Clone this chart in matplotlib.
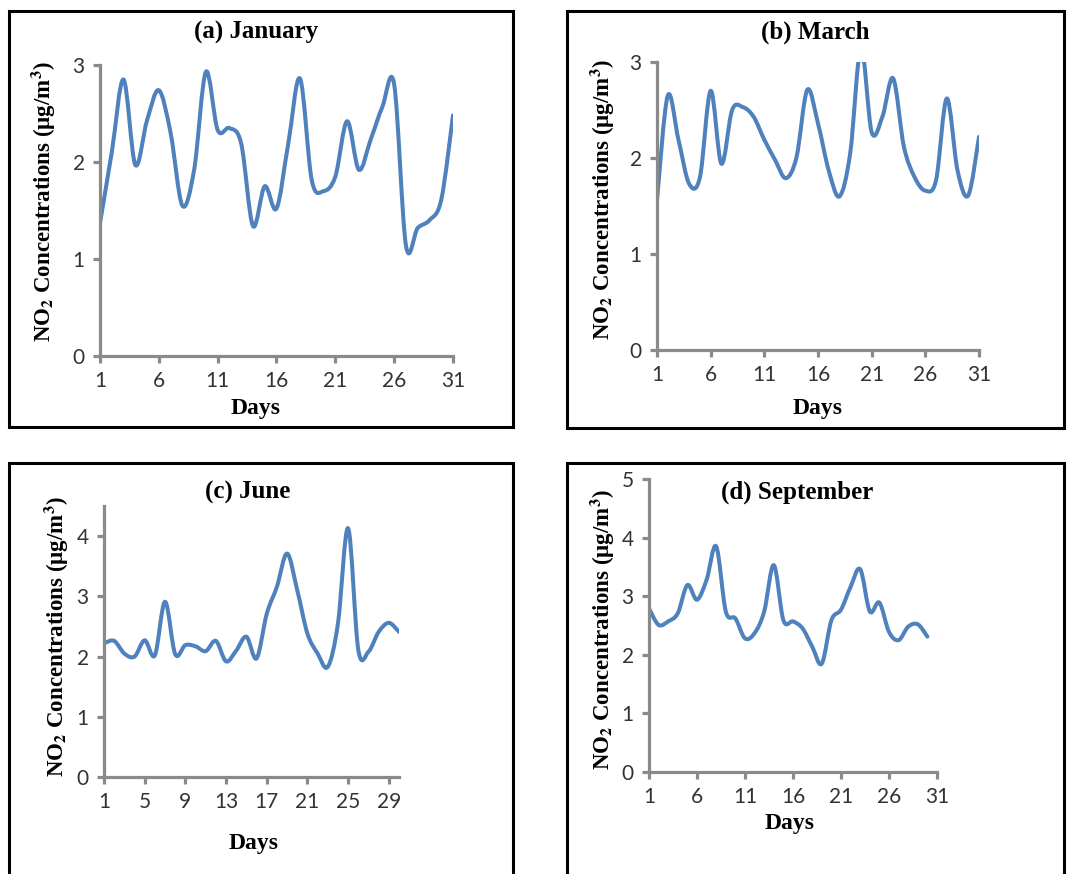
# NO2 daily concentrations - four month panels
import numpy as np
import matplotlib.pyplot as plt
from matplotlib.path import Path
from matplotlib.patches import PathPatch, Rectangle

# ---------------- data ----------------
jan_days = list(range(1, 32))
jan_no2 = [1.37, 2.10, 2.85, 1.97, 2.43, 2.74, 2.30, 1.55, 1.92, 2.93,
           2.33, 2.35, 2.19, 1.34, 1.75, 1.52, 2.19, 2.86, 1.81, 1.70,
           1.85, 2.42, 1.92, 2.23, 2.57, 2.80, 1.14, 1.32, 1.40, 1.61, 2.48]

mar_days = list(range(1, 32))
mar_no2 = [1.56, 2.65, 2.19, 1.73, 1.80, 2.70, 1.94, 2.50, 2.53, 2.43,
           2.19, 1.98, 1.79, 2.01, 2.71, 2.36, 1.87, 1.60, 2.05, 3.15,
           2.27, 2.43, 2.83, 2.12, 1.80, 1.66, 1.77, 2.62, 1.87, 1.61, 2.22]

jun_days = list(range(1, 31))
jun_no2 = [2.22, 2.26, 2.05, 2.00, 2.27, 2.02, 2.91, 2.04, 2.19, 2.17,
           2.09, 2.26, 1.92, 2.10, 2.33, 1.97, 2.71, 3.16, 3.71, 3.10,
           2.38, 2.05, 1.83, 2.55, 4.13, 2.11, 2.08, 2.41, 2.56, 2.41]

sep_days = list(range(1, 31))
sep_no2 = [2.79, 2.51, 2.57, 2.71, 3.19, 2.94, 3.28, 3.85, 2.74, 2.62,
           2.28, 2.37, 2.74, 3.53, 2.59, 2.57, 2.45, 2.14, 1.85, 2.59,
           2.77, 3.16, 3.46, 2.74, 2.89, 2.39, 2.25, 2.48, 2.52, 2.31]

titles = ["(a) January", "(b) March", "(c) June", "(d) September"]

# ---------------- layout helpers ----------------
W, H = 1067, 874
BLUE = "#4F81BD"
GREY = "#8a8a8a"

plt.rcParams["mathtext.fontset"] = "stix"


def rect(l, t, r, b):
    return [l / W, 1 - b / H, (r - l) / W, (b - t) / H]


def smooth_patch(x, y):
    # Excel-style smoothed line: cubic bezier through every point
    pts = np.column_stack([x, y]).astype(float)
    n = len(pts)
    verts = [pts[0]]
    codes = [Path.MOVETO]
    for i in range(n - 1):
        p0 = pts[i - 1] if i > 0 else pts[i]
        p1, p2 = pts[i], pts[i + 1]
        p3 = pts[i + 2] if i + 2 < n else pts[i + 1]
        c1 = p1 + (p2 - p0) / 6.0
        c2 = p2 - (p3 - p1) / 6.0
        verts += [c1, c2, p2]
        codes += [Path.CURVE4] * 3
    return PathPatch(Path(verts, codes), facecolor="none", edgecolor=BLUE,
                     lw=2.9, capstyle="round", joinstyle="round")


panels = [
    # days, values, axes box (l,t,r,b px), xlim, xticks, ylim, yticks, frame, title xy, ylabel xy, days xy
    (jan_days, jan_no2, (100, 65, 453, 356), (1, 31), range(1, 32, 5), 3, range(0, 4),
     (9, 11, 513, 427), (256, 32), (44, 202), (256, 408)),
    (mar_days, mar_no2, (657, 62, 979, 350), (1, 31), range(1, 32, 5), 3, range(0, 4),
     (567, 11, 1064, 428), (815, 32), (603, 200), (818, 408)),
    (jun_days, jun_no2, (104, 506, 399, 777), (1, 30), range(1, 30, 4), 4.5, range(0, 5),
     (9, 463, 513, 880), (248, 492), (57, 637), (254, 843)),
    (sep_days, sep_no2, (649, 479, 937, 772), (1, 31), range(1, 32, 5), 5, range(0, 6),
     (567, 463, 1064, 880), (797, 492), (603, 630), (790, 823)),
]

fig = plt.figure(figsize=(W / 100, H / 100), dpi=100)

for k, (days, vals, box, xl, xt, ymax, yt, frame, tpos, ypos, dpos) in enumerate(panels):
    ax = fig.add_axes(rect(*box))
    ax.add_patch(smooth_patch(days, vals))
    ax.set_xlim(*xl)
    ax.set_ylim(0, ymax)
    ax.set_xticks(list(xt))
    ax.set_yticks(list(yt))
    for s in ["top", "right"]:
        ax.spines[s].set_visible(False)
    for s in ["left", "bottom"]:
        ax.spines[s].set_color(GREY)
        ax.spines[s].set_linewidth(2.3)
    ax.tick_params(axis="both", color=GREY, width=2.3, length=5, direction="out",
                   labelsize=15, labelcolor="#333333", pad=6)
    for lab in ax.get_xticklabels() + ax.get_yticklabels():
        lab.set_fontfamily("Lato")
    ax.set_facecolor("none")

    fig.text(tpos[0] / W, 1 - tpos[1] / H, titles[k], ha="center", va="center",
             fontsize=18, fontweight="bold", family="Liberation Serif")
    fig.text(ypos[0] / W, 1 - ypos[1] / H,
             r"NO$_\mathbf{2}$ Concentrations (µg/m$^\mathbf{3}$)",
             rotation=90, ha="center", va="center", fontsize=16.5,
             fontweight="bold", family="Liberation Serif")
    fig.text(dpos[0] / W, 1 - dpos[1] / H, "Days", ha="center", va="center",
             fontsize=17, fontweight="bold", family="Liberation Serif")

    l, t, r, b = frame
    fig.add_artist(Rectangle((l / W, 1 - b / H), (r - l) / W, (b - t) / H,
                             transform=fig.transFigure, fill=False,
                             edgecolor="black", lw=2.2))

fig.savefig("out.png", dpi=100)
